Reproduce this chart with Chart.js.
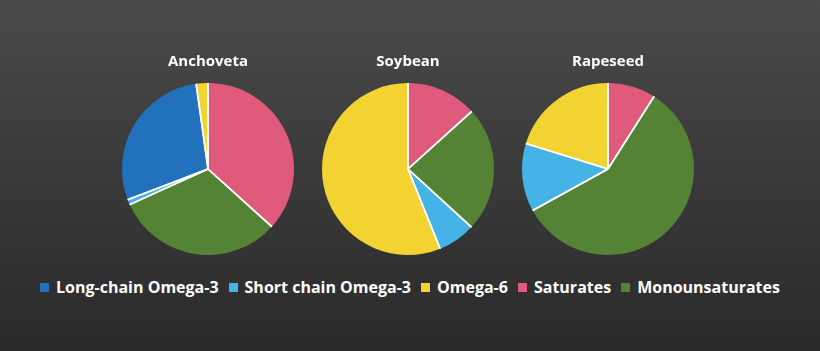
<!DOCTYPE html>
<html>
<head>
<meta charset="utf-8">
<script src="https://cdn.jsdelivr.net/npm/chart.js@4.4.1/dist/chart.umd.min.js"></script>
<style>
  html, body { margin: 0; padding: 0; }
  body {
    width: 820px; height: 351px; overflow: hidden; position: relative;
    background: linear-gradient(#4a4a4a, #2a2a2a);
    font-family: "Open Sans", sans-serif;
  }
  .pie { position: absolute; top: 40px; width: 200px; height: 215px; }
  #legend {
    position: absolute; left: 0; right: 0; top: 276px;
    display: flex; justify-content: center; align-items: center;
    color: #fff; font-weight: bold; font-size: 16px;
  }
  #legend .item { display: flex; align-items: center; margin: 0 5px; }
  #legend .box { width: 9px; height: 9px; margin-right: 7px; }
</style>
</head>
<body>
<div class="pie" style="left:108px"><canvas id="c0"></canvas></div>
<div class="pie" style="left:308px"><canvas id="c1"></canvas></div>
<div class="pie" style="left:508px"><canvas id="c2"></canvas></div>
<div id="legend"></div>
<script>
// legend order
const categories = ['Long-chain Omega-3', 'Short chain Omega-3', 'Omega-6', 'Saturates', 'Monounsaturates'];
const colors = ['#2271bd', '#45b3e6', '#f3d332', '#e05b7b', '#558335'];

const oils = ['Anchoveta', 'Soybean', 'Rapeseed'];
// % per category, same order as categories
const anchoveta = [28.6, 1.0, 2.2, 36.7, 31.5];
const soybean   = [0, 7.1, 56.1, 13.3, 23.5];
const rapeseed  = [0, 12.8, 20.2, 9.0, 58.0];

// slices go clockwise from 12 o'clock in this order
const drawOrder = [3, 4, 1, 0, 2];

// white separator lines between slices (no outline on the rim)
const separators = {
    id: 'separators',
    afterDatasetsDraw(chart) {
        const c = chart.ctx;
        c.save();
        c.strokeStyle = '#fff';
        c.lineWidth = 1.6;
        chart.getDatasetMeta(0).data.forEach(arc => {
            if (arc.endAngle - arc.startAngle <= 0) return;
            [arc.startAngle, arc.endAngle].forEach(a => {
                c.beginPath();
                c.moveTo(arc.x, arc.y);
                c.lineTo(arc.x + Math.cos(a) * arc.outerRadius, arc.y + Math.sin(a) * arc.outerRadius);
                c.stroke();
            });
        });
        c.restore();
    }
};

[anchoveta, soybean, rapeseed].forEach((vals, k) => {
    new Chart(document.getElementById('c' + k), {
        type: 'pie',
        data: {
            labels: drawOrder.map(i => categories[i]),
            datasets: [{
                data: drawOrder.map(i => vals[i]),
                backgroundColor: drawOrder.map(i => colors[i]),
                borderWidth: 0,
                hoverOffset: 0
            }]
        },
        options: {
            responsive: true,
            maintainAspectRatio: false,
            animation: false,
            layout: { padding: 0 },
            plugins: {
                legend: { display: false },
                tooltip: { enabled: false },
                title: {
                    display: true,
                    text: oils[k],
                    color: '#fff',
                    font: { family: 'Open Sans', size: 15, weight: 'bold' },
                    padding: { top: 13, bottom: 12 }
                }
            }
        },
        plugins: [separators]
    });
});

const legend = document.getElementById('legend');
categories.forEach((name, i) => {
    const item = document.createElement('div');
    item.className = 'item';
    item.innerHTML = '<span class="box" style="background:' + colors[i] + '"></span><span>' + name + '</span>';
    legend.appendChild(item);
});
</script>
</body>
</html>
